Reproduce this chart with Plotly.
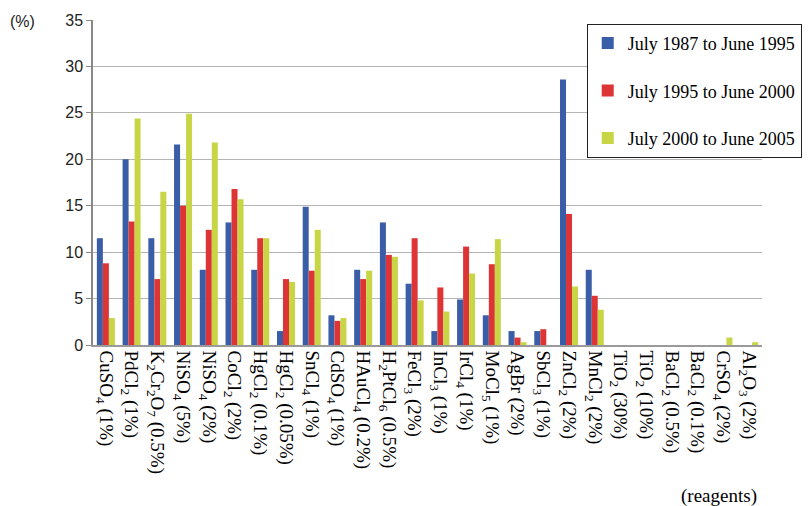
import plotly.graph_objects as go

categories = [
    "CuSO<sub>4</sub> (1%)", "PdCl<sub>2</sub> (1%)", "K<sub>2</sub>Cr<sub>2</sub>O<sub>7</sub> (0.5%)",
    "NiSO<sub>4</sub> (5%)", "NiSO<sub>4</sub> (2%)", "CoCl<sub>2</sub> (2%)",
    "HgCl<sub>2</sub> (0.1%)", "HgCl<sub>2</sub> (0.05%)", "SnCl<sub>4</sub> (1%)",
    "CdSO<sub>4</sub> (1%)", "HAuCl<sub>4</sub> (0.2%)", "H<sub>2</sub>PtCl<sub>6</sub> (0.5%)",
    "FeCl<sub>3</sub> (2%)", "InCl<sub>3</sub> (1%)", "IrCl<sub>4</sub> (1%)",
    "MoCl<sub>5</sub> (1%)", "AgBr (2%)", "SbCl<sub>3</sub> (1%)",
    "ZnCl<sub>2</sub> (2%)", "MnCl<sub>2</sub> (2%)", "TiO<sub>2</sub> (30%)",
    "TiO<sub>2</sub> (10%)", "BaCl<sub>2</sub> (0.5%)", "BaCl<sub>2</sub> (0.1%)",
    "CrSO<sub>4</sub> (2%)", "Al<sub>2</sub>O<sub>3</sub> (2%)",
]
cat_ids = list(range(len(categories)))

series_names = ["July 1987 to June 1995", "July 1995 to June 2000", "July 2000 to June 2005"]
period_1987_1995 = [11.5, 20.0, 11.5, 21.6, 8.1, 13.2, 8.1, 1.5, 14.9, 3.2, 8.1, 13.2, 6.6,
                    1.5, 4.9, 3.2, 1.5, 1.5, 28.6, 8.1, 0, 0, 0, 0, 0, 0]
period_1995_2000 = [8.8, 13.3, 7.1, 15.0, 12.4, 16.8, 11.5, 7.1, 8.0, 2.6, 7.1, 9.7, 11.5,
                    6.2, 10.6, 8.7, 0.8, 1.7, 14.1, 5.3, 0, 0, 0, 0, 0, 0]
period_2000_2005 = [2.9, 24.4, 16.5, 24.9, 21.8, 15.7, 11.5, 6.8, 12.4, 2.9, 8.0, 9.5, 4.8,
                    3.6, 7.7, 11.4, 0.3, 0, 6.3, 3.8, 0, 0, 0, 0, 0.8, 0.3]
series_values = [period_1987_1995, period_1995_2000, period_2000_2005]
colors = ["#3A5DA8", "#DD3535", "#C8D544"]

y_ticks = [0, 5, 10, 15, 20, 25, 30, 35]

serif = "Liberation Serif"
fig = go.Figure()
for i, (name, vals, col) in enumerate(zip(series_names, series_values, colors)):
    fig.add_trace(go.Bar(
        x=cat_ids, y=vals, name=name, marker=dict(color=col, line=dict(width=0)),
        legendgroup=f"g{i}",
    ))

fig.update_layout(
    width=810, height=506,
    margin=dict(l=93, r=48, t=20, b=161, autoexpand=False),
    paper_bgcolor="white", plot_bgcolor="white",
    barmode="group", bargap=0.3, bargroupgap=0,
    font=dict(family=serif, color="black"),
    legend=dict(
        x=0.738, y=0.988, xanchor="left", yanchor="top",
        bgcolor="white", bordercolor="#222222", borderwidth=1,
        font=dict(family=serif, size=18, color="black"),
        tracegroupgap=21, itemwidth=30,
    ),
    xaxis=dict(
        tickmode="array", tickvals=cat_ids, ticktext=categories,
        range=[-0.5, len(categories) - 0.5],
        tickangle=90, tickfont=dict(family=serif, size=19, color="black"),
        showline=True, linecolor="#9a9a9a", linewidth=1.5,
        showgrid=False, ticks="",
    ),
    yaxis=dict(
        range=[0, 35], tickvals=y_ticks,
        tickfont=dict(family="Liberation Sans", size=16, color="#222222"),
        showline=True, linecolor="#888888", linewidth=1.5,
        showgrid=True, gridcolor="#b4b4b4", gridwidth=1.2,
        ticks="outside", ticklen=5, tickcolor="#888888", zeroline=False,
    ),
    annotations=[
        dict(text="(%)", xref="paper", yref="paper", x=-0.105, y=0.995,
             xanchor="center", yanchor="middle", showarrow=False,
             font=dict(family="Liberation Sans", size=16, color="#222222")),
        dict(text="(reagents)", xref="paper", yref="paper", x=0.995, y=-0.465,
             xanchor="right", yanchor="middle", showarrow=False,
             font=dict(family=serif, size=19, color="black")),
    ],
)

fig.write_html("out.html")
